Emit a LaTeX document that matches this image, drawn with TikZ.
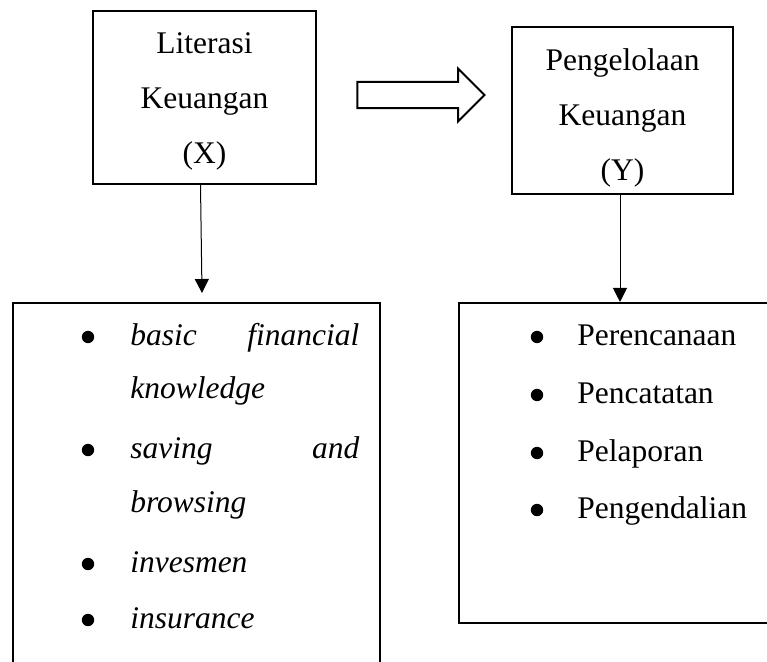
\documentclass[tikz,border=0pt]{standalone}
\usepackage{fontspec}
\setmainfont{Liberation Serif}
\usetikzlibrary{arrows.meta,shapes.arrows}

\begin{document}
\begin{tikzpicture}[x=0.025cm, y=-0.025cm]
  % Define styles
  \tikzstyle{varbox} = [rectangle, draw=black, line width=0.05cm, inner sep=0pt]
  \tikzstyle{indbox} = [rectangle, draw=black, line width=0.05cm, inner sep=0pt]
  \tikzstyle{boxtext} = [align=center, inner sep=0pt, font=\fontsize{22.4}{39.1}\selectfont]
  \tikzstyle{listtext} = [anchor=base west, inner sep=0pt, font=\fontsize{22.4}{27}\selectfont]
  \tikzstyle{bulletdot} = [circle, fill=black, inner sep=0pt, minimum size=0.31cm]
  \tikzstyle{arrow} = [line width=0.025cm, -{Triangle[width=0.35cm,length=0.35cm]}]

  \useasboundingbox (0,0) rectangle (767,662);
  \clip (0,0) rectangle (767,662);

  % Variables
  \node (varX) [varbox, minimum width=5.575cm, minimum height=4.325cm] at (204.5,97.5) {};
  \node (varXtext) [boxtext] at (204.5,101) {Literasi\\Keuangan\\(X)};
  \node (varY) [varbox, minimum width=5.525cm, minimum height=4.175cm] at (622.5,110.5) {};
  \node (varYtext) [boxtext] at (622.5,118) {Pengelolaan\\Keuangan\\(Y)};

  % Block arrow between the variables
  \node (impl) [single arrow, draw=black, line width=0.05cm, inner xsep=0pt, inner ysep=0.3cm,
    minimum height=3.175cm, single arrow head extend=0.3375cm] at (414.5,95) {};

  % Indicator boxes (cut off by the page edge)
  \node (indX) [indbox, minimum width=9.175cm, minimum height=9.925cm] at (196.5,501.5) {};
  \node (indY) [indbox, minimum width=8.525cm, minimum height=8cm] at (629.5,463) {};

  % Indicators of X
  \node (bx1) [bulletdot] at (88,337) {};
  \node (x1a) [listtext] at (130,345) {\itshape\makebox[5.725cm][s]{basic financial}};
  \node (x1b) [listtext] at (130,398) {\itshape knowledge};
  \node (bx2) [bulletdot] at (88,450) {};
  \node (x2a) [listtext] at (130,458) {\itshape\makebox[5.725cm][s]{saving and}};
  \node (x2b) [listtext] at (130,512) {\itshape browsing};
  \node (bx3) [bulletdot] at (88,564) {};
  \node (x3) [listtext] at (130,572) {\itshape invesmen};
  \node (bx4) [bulletdot] at (88,620) {};
  \node (x4) [listtext] at (130,628) {\itshape insurance};

  % Indicators of Y
  \node (by1) [bulletdot] at (537,337) {};
  \node (y1) [listtext] at (577,345) {Perencanaan};
  \node (by2) [bulletdot] at (537,395) {};
  \node (y2) [listtext] at (577,403) {Pencatatan};
  \node (by3) [bulletdot] at (537,453) {};
  \node (y3) [listtext] at (577,461) {Pelaporan};
  \node (by4) [bulletdot] at (537,510) {};
  \node (y4) [listtext] at (577,518) {Pengendalian};

  % Arrows
  \coordinate (tipX) at (202,293);
  \draw [arrow] ([xshift=-0.1cm]varX.south) -- (tipX);
  \draw [arrow] ([xshift=-0.0625cm]varY.south) -- ([xshift=-0.0625cm]varY.south |- indY.north);
\end{tikzpicture}
\end{document}
